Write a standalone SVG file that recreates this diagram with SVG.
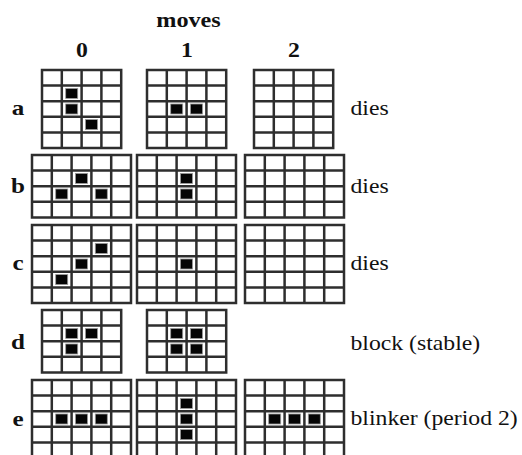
<svg xmlns="http://www.w3.org/2000/svg" xmlns:xlink="http://www.w3.org/1999/xlink" width="522" height="455" viewBox="0 0 522 455">
<style>
.grid{fill:none;stroke:#2e2e2e;stroke-width:2.5}
.cell{fill:#050505;stroke:#9a9a9a;stroke-width:0.8}
.t{font-family:"Liberation Serif","Times New Roman",serif;fill:#111}
.b{font-weight:bold}
.lab{font-size:21px}
</style>
<defs>
<path id="g45" class="grid" d="M0,0H79.2V78H0Z M19.8,0V78 M39.6,0V78 M59.4,0V78 M0,15.6H79.2 M0,31.2H79.2 M0,46.8H79.2 M0,62.4H79.2"/>
<path id="g54" class="grid" d="M0,0H99V62.4H0Z M19.8,0V62.4 M39.6,0V62.4 M59.4,0V62.4 M79.2,0V62.4 M0,15.6H99 M0,31.2H99 M0,46.8H99"/>
<path id="g55" class="grid" d="M0,0H99V78H0Z M19.8,0V78 M39.6,0V78 M59.4,0V78 M79.2,0V78 M0,15.6H99 M0,31.2H99 M0,46.8H99 M0,62.4H99"/>
<path id="g44" class="grid" d="M0,0H79.2V62.4H0Z M19.8,0V62.4 M39.6,0V62.4 M59.4,0V62.4 M0,15.6H79.2 M0,31.2H79.2 M0,46.8H79.2"/>
<rect id="cell" class="cell" width="12" height="10"/>
</defs>
<rect width="522" height="455" fill="#fff"/>

<g id="headers">
<text class="t b" font-size="22" text-anchor="middle" transform="translate(188.5,26.5) scale(1.1,1)">moves</text>
<text class="t b" font-size="21" text-anchor="middle" transform="translate(82,57) scale(1.13,1)">0</text>
<text class="t b" font-size="21" text-anchor="middle" transform="translate(187,57) scale(1.13,1)">1</text>
<text class="t b" font-size="21" text-anchor="middle" transform="translate(294,57) scale(1.13,1)">2</text>
</g>

<g id="row-a">
<text class="t b" font-size="22" text-anchor="middle" transform="translate(18,115) scale(1.14,1)">a</text>
<g id="a0"><use xlink:href="#g45" x="42" y="70"/><use xlink:href="#cell" x="65.7" y="88.4"/><use xlink:href="#cell" x="65.7" y="104"/><use xlink:href="#cell" x="85.5" y="119.6"/></g>
<g id="a1"><use xlink:href="#g45" x="147" y="70"/><use xlink:href="#cell" x="170.7" y="104"/><use xlink:href="#cell" x="190.5" y="104"/></g>
<g id="a2"><use xlink:href="#g45" x="254" y="70"/></g>
<text class="t lab" transform="translate(350.5,115) scale(1.13,1)">dies</text>
</g>

<g id="row-b">
<text class="t b" font-size="22" text-anchor="middle" transform="translate(18,192.5) scale(1.14,1)">b</text>
<g id="b0"><use xlink:href="#g54" x="32" y="155"/><use xlink:href="#cell" x="75.5" y="173.4"/><use xlink:href="#cell" x="55.7" y="189"/><use xlink:href="#cell" x="95.3" y="189"/></g>
<g id="b1"><use xlink:href="#g54" x="137" y="155"/><use xlink:href="#cell" x="180.5" y="173.4"/><use xlink:href="#cell" x="180.5" y="189"/></g>
<g id="b2"><use xlink:href="#g54" x="245" y="155"/></g>
<text class="t lab" transform="translate(350.5,192.5) scale(1.13,1)">dies</text>
</g>

<g id="row-c">
<text class="t b" font-size="22" text-anchor="middle" transform="translate(18,270) scale(1.14,1)">c</text>
<g id="c0"><use xlink:href="#g55" x="32" y="225"/><use xlink:href="#cell" x="95.3" y="243.4"/><use xlink:href="#cell" x="75.5" y="259"/><use xlink:href="#cell" x="55.7" y="274.6"/></g>
<g id="c1"><use xlink:href="#g55" x="137" y="225"/><use xlink:href="#cell" x="180.5" y="259"/></g>
<g id="c2"><use xlink:href="#g55" x="245" y="225"/></g>
<text class="t lab" transform="translate(350.5,270) scale(1.13,1)">dies</text>
</g>

<g id="row-d">
<text class="t b" font-size="22" text-anchor="middle" transform="translate(18,348.5) scale(1.14,1)">d</text>
<g id="d0"><use xlink:href="#g44" x="42" y="310"/><use xlink:href="#cell" x="65.7" y="328.4"/><use xlink:href="#cell" x="85.5" y="328.4"/><use xlink:href="#cell" x="65.7" y="344"/></g>
<g id="d1"><use xlink:href="#g44" x="147" y="310"/><use xlink:href="#cell" x="170.7" y="328.4"/><use xlink:href="#cell" x="190.5" y="328.4"/><use xlink:href="#cell" x="170.7" y="344"/><use xlink:href="#cell" x="190.5" y="344"/></g>
<text class="t lab" transform="translate(350.5,350) scale(1.13,1)">block (stable)</text>
</g>

<g id="row-e">
<text class="t b" font-size="22" text-anchor="middle" transform="translate(18,426) scale(1.14,1)">e</text>
<g id="e0"><use xlink:href="#g55" x="32" y="380"/><use xlink:href="#cell" x="55.7" y="414"/><use xlink:href="#cell" x="75.5" y="414"/><use xlink:href="#cell" x="95.3" y="414"/></g>
<g id="e1"><use xlink:href="#g55" x="137" y="380"/><use xlink:href="#cell" x="180.5" y="398.4"/><use xlink:href="#cell" x="180.5" y="414"/><use xlink:href="#cell" x="180.5" y="429.6"/></g>
<g id="e2"><use xlink:href="#g55" x="245" y="380"/><use xlink:href="#cell" x="268.7" y="414"/><use xlink:href="#cell" x="288.5" y="414"/><use xlink:href="#cell" x="308.3" y="414"/></g>
<text class="t lab" transform="translate(350.5,425) scale(1.13,1)">blinker (period 2)</text>
</g>

<g id="connectors"/>
</svg>
